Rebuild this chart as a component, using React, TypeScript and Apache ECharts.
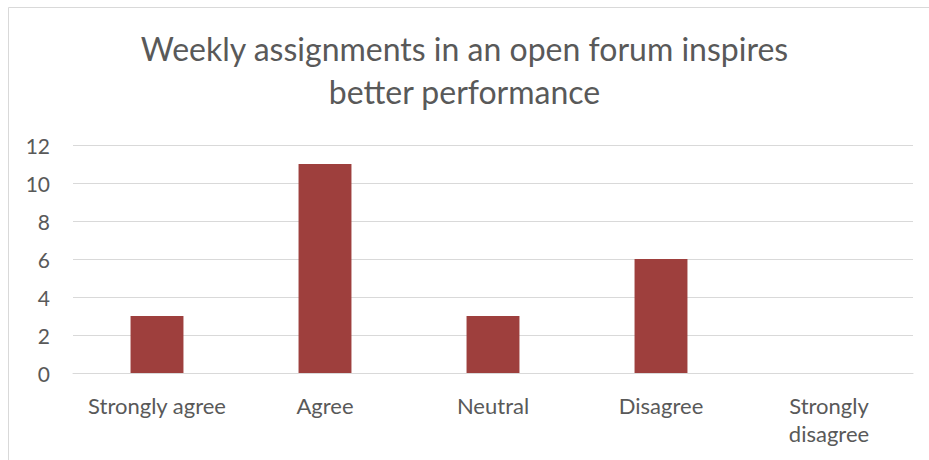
import React, { useEffect, useRef } from "react";
import * as echarts from "echarts";

const categories = ["Strongly agree", "Agree", "Neutral", "Disagree", "Strongly\ndisagree"];
const values = [3, 11, 3, 6, 0];
const titleText = "Weekly assignments in an open forum inspires\nbetter performance";

export default function App() {
  const ref = useRef<HTMLDivElement>(null);
  useEffect(() => {
    if (!ref.current) return;
    const chart = echarts.init(ref.current, null, { renderer: "svg" });
    const font = "Lato, 'Open Sans', sans-serif";
    chart.setOption({
      animation: false,
      backgroundColor: "#ffffff",
      title: {
        text: titleText,
        left: "center",
        top: 22,
        textStyle: {
          fontFamily: font,
          fontSize: 32,
          fontWeight: "normal",
          color: "#595959",
          lineHeight: 43,
        },
      },
      graphic: [
        {
          type: "rect",
          shape: { x: 8.5, y: 7.5, width: 940, height: 470 },
          style: { fill: "none", stroke: "#d9d9d9", lineWidth: 1 },
          silent: true,
        },
      ],
      grid: { left: 73, right: 16, top: 145, bottom: 87 },
      xAxis: {
        type: "category",
        data: categories,
        axisLine: { show: true, lineStyle: { color: "#d9d9d9", width: 1 } },
        axisTick: { show: false },
        axisLabel: {
          color: "#595959",
          fontFamily: font,
          fontSize: 22,
          margin: 18,
          lineHeight: 28,
          interval: 0,
        },
      },
      yAxis: {
        type: "value",
        min: 0,
        max: 12,
        interval: 2,
        axisLine: { show: false },
        axisTick: { show: false },
        splitLine: { lineStyle: { color: "#d9d9d9", width: 1 } },
        axisLabel: {
          color: "#595959",
          fontFamily: font,
          fontSize: 21,
          margin: 23,
        },
      },
      series: [
        {
          type: "bar",
          data: values,
          barWidth: "31.5%",
          itemStyle: { color: "#9e3f3d" },
        },
      ],
    });
    return () => chart.dispose();
  }, []);
  return (
    <div
      ref={ref}
      style={{ position: "fixed", left: 0, top: 0, width: 929, height: 460 }}
    />
  );
}
